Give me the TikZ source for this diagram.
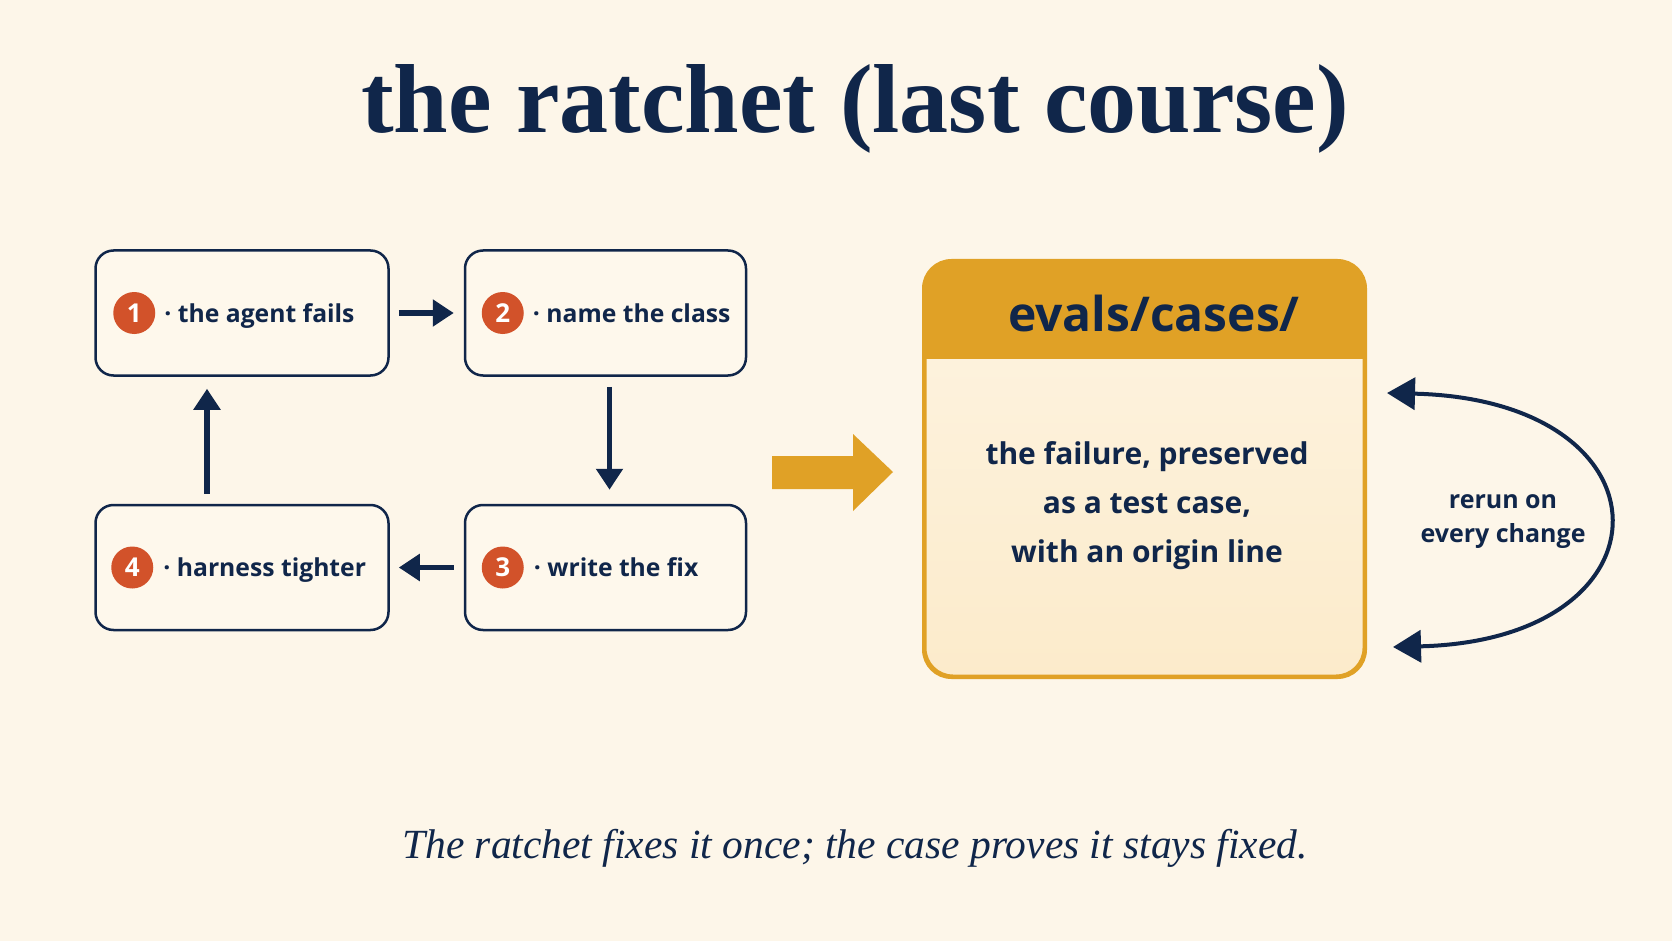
\documentclass[tikz,border=0pt]{standalone}
\usepackage{fontspec}
\setmainfont{Liberation Serif}
\newfontfamily\osans{Open Sans}
\usetikzlibrary{arrows.meta}
\definecolor{bg}{HTML}{FDF6E9}
\definecolor{navy}{HTML}{10264A}
\definecolor{rust}{HTML}{D2522A}
\definecolor{gold}{HTML}{E0A126}
\definecolor{boxfill}{HTML}{FEF8EC}
\definecolor{bodytop}{HTML}{FDF4E2}
\definecolor{bodybot}{HTML}{FCEBCB}
\begin{document}
\begin{tikzpicture}[x=1pt,y=-1pt,
 stepbox/.style={draw=navy, line width=2.5pt, rounded corners=18pt, fill=boxfill, minimum width=293pt, minimum height=125pt, inner sep=0pt},
 numdot/.style={circle, fill=rust, minimum size=42pt, inner sep=0pt, text=white, font=\osans\bfseries\fontsize{26}{26}\selectfont},
 steptext/.style={anchor=base west, inner sep=0pt, text=navy, font=\osans\bfseries\fontsize{24.7}{30}\selectfont},
 flow/.style={draw=navy, line width=5.5pt, -{Triangle[length=21pt,width=26pt]}},
 loopflow/.style={draw=navy, line width=4pt, {Triangle[length=28pt,width=32pt]}-{Triangle[length=28pt,width=32pt]}},
 navytext/.style={text=navy, inner sep=0pt},
]
\fill[bg] (0,0) rectangle (1672,941);
\useasboundingbox (0,0) rectangle (1672,941);

% title
\node[navytext, anchor=base, font=\bfseries\fontsize{98}{98}\selectfont] (title) at (855,133) {the ratchet (last course)};

% step boxes
\node[stepbox] (s1) at (242,313) {};
\node[stepbox, minimum width=281pt] (s2) at (605.5,313) {};
\node[stepbox, minimum width=281pt] (s3) at (605.5,567.5) {};
\node[stepbox] (s4) at (242,567.5) {};

\node[numdot] (n1) at ([xshift=40pt]s1.west) {1};
\node[numdot] (n2) at ([xshift=39pt]s2.west) {2};
\node[numdot] (n3) at ([xshift=39pt]s3.west) {3};
\node[numdot] (n4) at ([xshift=38pt]s4.west) {4};

\node[steptext] (t1) at ([xshift=30pt,yshift=-9pt]n1.center) {· the agent fails};
\node[steptext] (t2) at ([xshift=30pt,yshift=-9pt]n2.center) {· name the class};
\node[steptext] (t3) at ([xshift=31pt,yshift=-9pt]n3.center) {· write the fix};
\node[steptext] (t4) at ([xshift=31pt,yshift=-9pt]n4.center) {· harness tighter};

% cycle arrows
\draw[flow] ([xshift=9pt]s1.east) -- ([xshift=-10pt]s2.west);
\draw[flow] ([xshift=4pt,yshift=-10pt]s2.south) -- ([xshift=4pt,yshift=14pt]s3.north);
\draw[flow] ([xshift=-10pt]s3.west) -- ([xshift=9pt]s4.east);
\draw[flow] ([xshift=-35pt,yshift=10pt]s4.north) -- ([xshift=-35pt,yshift=-12pt]s1.south);

% big block arrow
\fill[gold] (772,456) -- (853,456) -- (853,434) -- (893,472) -- (853,511) -- (853,489) -- (772,489) -- cycle;

% evals box
\node[draw=gold, line width=3pt, rounded corners=28pt, minimum width=439pt, minimum height=414pt, inner sep=0pt, top color=bodytop, bottom color=bodybot] (ev) at (1144.5,469) {};
\begin{scope}
\clip[rounded corners=28pt] (ev.south west) rectangle (ev.north east);
\fill[gold] (ev.north west) rectangle (1366,359);
\end{scope}
\draw[gold, line width=3pt, rounded corners=28pt] (ev.south west) rectangle (ev.north east);
\node[navytext, anchor=base, font=\osans\bfseries\fontsize{48}{48}\selectfont] (evh) at (1154,331) {evals/cases/};
\node[navytext, align=center, font=\osans\bfseries\fontsize{30}{49}\selectfont] (evb) at (1147,506) {the failure, preserved\\as a test case,\\with an origin line};

% rerun loop
\coordinate (rt) at (1387,393);
\coordinate (rb) at (1393,647);
\draw[loopflow] (rb) .. controls (1678,640) and (1678,400) .. (rt);
\node[navytext, align=center, font=\osans\bfseries\fontsize{25}{34}\selectfont] (rr) at (1503,522) {rerun on\\every change};

% caption
\node[navytext, anchor=base, font=\itshape\fontsize{41.5}{41.5}\selectfont] (cap) at (855,858) {The ratchet fixes it once; the case proves it stays fixed.};
\end{tikzpicture}
\end{document}
